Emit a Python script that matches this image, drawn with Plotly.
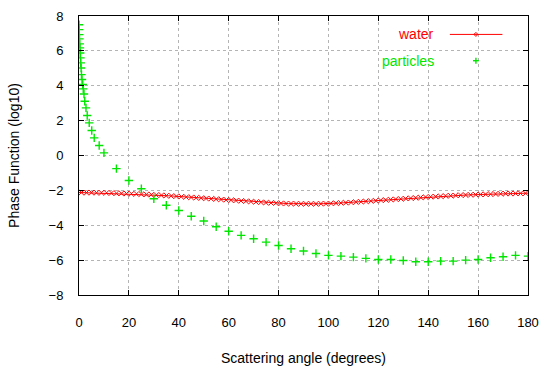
import plotly.graph_objects as go

# ---- data ----
water_angle = list(range(0, 181, 2))
water_logp = [
    -2.12, -2.13, -2.13, -2.13, -2.14, -2.14, -2.15, -2.16, -2.17, -2.18,
    -2.19, -2.20, -2.21, -2.23, -2.24, -2.26, -2.27, -2.29, -2.31, -2.33,
    -2.35, -2.37, -2.39, -2.41, -2.43, -2.45, -2.47, -2.49, -2.51, -2.53,
    -2.55, -2.57, -2.59, -2.61, -2.63, -2.65, -2.67, -2.69, -2.71, -2.72,
    -2.74, -2.75, -2.76, -2.76, -2.77, -2.77, -2.77, -2.77, -2.77, -2.76,
    -2.76, -2.74, -2.73, -2.71, -2.70, -2.68, -2.66, -2.64, -2.62, -2.60,
    -2.58, -2.56, -2.54, -2.52, -2.50, -2.48, -2.46, -2.44, -2.42, -2.40,
    -2.38, -2.36, -2.35, -2.33, -2.31, -2.30, -2.28, -2.27, -2.26, -2.25,
    -2.24, -2.23, -2.22, -2.21, -2.20, -2.19, -2.18, -2.18, -2.17, -2.17,
    -2.16,
]

particle_angle = [
    0.05, 0.1, 0.15, 0.2, 0.3, 0.4, 0.5, 0.6, 0.7, 0.85, 1.0, 1.2, 1.5, 1.7,
    2.0, 2.3, 2.8, 3.3, 4.1, 5.1, 6.1, 8.1,
    10, 15, 20, 25, 30, 35, 40, 45, 50, 55, 60, 65, 70, 75, 80, 85, 90,
    95, 100, 105, 110, 115, 120, 125, 130, 135, 140, 145, 150, 155, 160,
    165, 170, 175, 180,
]
particle_logp = [
    7.5, 7.22, 6.93, 6.69, 6.4, 6.17, 5.88, 5.6, 5.31, 5.02, 4.64, 4.36, 4.07, 3.82,
    3.53, 3.11, 2.73, 2.29, 1.87, 1.43, 1.01, 0.57,
    0.15, -0.75, -1.43, -1.91, -2.48, -2.85, -3.15, -3.48, -3.76, -4.09, -4.34,
    -4.58, -4.77, -4.97, -5.16, -5.35, -5.48, -5.62, -5.73, -5.77, -5.83, -5.9,
    -5.96, -5.96, -6.02, -6.09, -6.09, -6.06, -6.06, -6.0, -5.96, -5.86, -5.81,
    -5.73, -5.77,
]

x_ticks = [0, 20, 40, 60, 80, 100, 120, 140, 160, 180]
y_ticks = [-8, -6, -4, -2, 0, 2, 4, 6, 8]
series_names = ["water", "particles"]

RED = "#ff0000"
GREEN = "#00e600"
FONT = "Arial, Liberation Sans, sans-serif"
FS = 14
TFS = 13

fig = go.Figure()
fig.add_trace(go.Scatter(
    x=water_angle, y=water_logp, mode="lines+markers", name=series_names[0],
    line=dict(color=RED, width=1),
    marker=dict(symbol="diamond-open", size=4, color=RED, line=dict(width=1, color=RED)),
    showlegend=False,
))
fig.add_trace(go.Scatter(
    x=particle_angle, y=particle_logp, mode="markers", name=series_names[1],
    marker=dict(symbol="cross-thin", size=6, color=GREEN, line=dict(width=1.4, color=GREEN)),
    showlegend=False,
))

axis_common = dict(
    showline=True, linecolor="#000000", linewidth=1, mirror="ticks",
    ticks="inside", ticklen=5, tickcolor="#000000", tickwidth=1,
    showgrid=True, gridcolor="#b4b4b4", gridwidth=1, griddash="3px,3px",
    zeroline=False, automargin=False, ticklabeloverflow="allow",
    tickfont=dict(family=FONT, size=TFS, color="#000000"),
)

fig.update_xaxes(
    range=[0, 180], tickvals=x_ticks, ticklabelstandoff=15,
    title=dict(text="Scattering angle (degrees)", font=dict(family=FONT, size=FS, color="#000000"), standoff=24),
    **axis_common,
)
fig.update_yaxes(
    range=[-8, 8], tickvals=y_ticks, ticklabelstandoff=12,
    title=dict(text="Phase Function (log10)", font=dict(family=FONT, size=FS, color="#000000"), standoff=25),
    **axis_common,
)

# legend (gnuplot style: text then sample)
fig.add_shape(type="rect", xref="paper", yref="paper", x0=0.553, x1=0.997, y0=0.803, y1=0.997,
              fillcolor="white", line=dict(width=0), layer="between")
fig.add_annotation(xref="paper", yref="paper", x=0.7956, y=0.934, text=series_names[0],
                   showarrow=False, xanchor="right", yanchor="middle",
                   font=dict(family=FONT, size=FS, color=RED))
fig.add_annotation(xref="paper", yref="paper", x=0.7956, y=0.8398, text=series_names[1],
                   showarrow=False, xanchor="right", yanchor="middle",
                   font=dict(family=FONT, size=FS, color=GREEN))
fig.add_shape(type="line", xref="paper", yref="paper", x0=0.826, x1=0.943, y0=0.934, y1=0.934,
              line=dict(color=RED, width=1))
fig.add_shape(type="path", xref="paper", yref="paper",
              path="M 0.8795 0.934 L 0.884 0.9412 L 0.8885 0.934 L 0.884 0.9268 Z",
              line=dict(color=RED, width=1))
fig.add_shape(type="line", xref="paper", yref="paper", x0=0.8775, x1=0.8905, y0=0.8398, y1=0.8398,
              line=dict(color=GREEN, width=1.4))
fig.add_shape(type="line", xref="paper", yref="paper", x0=0.884, x1=0.884, y0=0.8293, y1=0.8503,
              line=dict(color=GREEN, width=1.4))

fig.update_layout(
    width=539, height=370,
    margin=dict(l=79, r=11, t=16, b=75),
    paper_bgcolor="white", plot_bgcolor="white",
    font=dict(family=FONT, size=FS, color="#000000"),
)

fig.write_html(
    "out.html",
    config={"displayModeBar": False},
    post_script="document.body.style.margin='0';document.body.style.overflow='hidden';",
)
